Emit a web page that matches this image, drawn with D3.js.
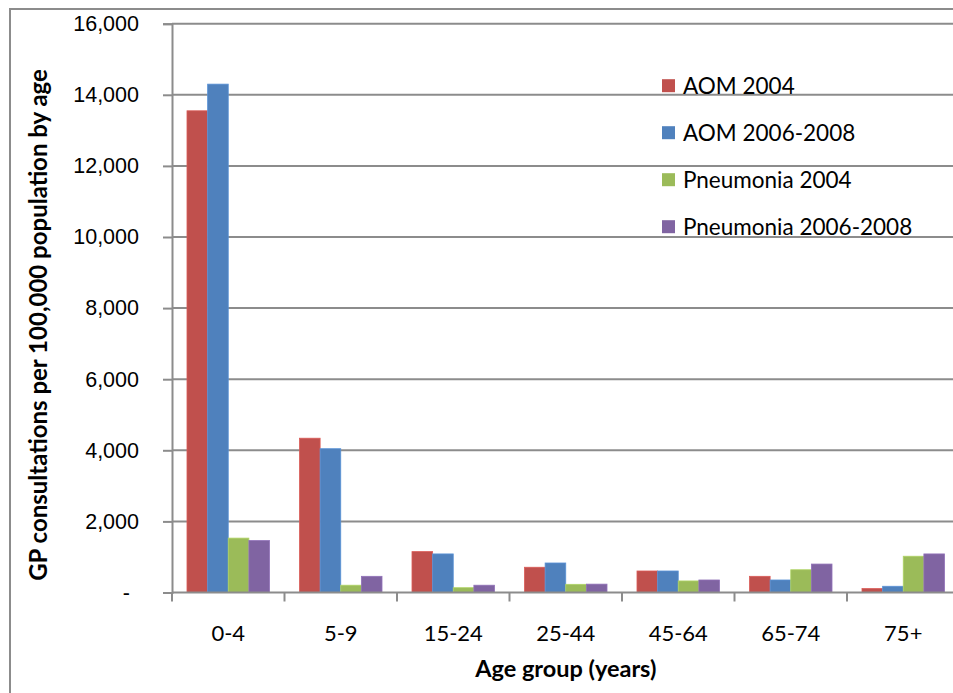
<!DOCTYPE html>
<html>
<head>
<meta charset="utf-8">
<script src="https://cdn.jsdelivr.net/npm/d3@7/dist/d3.min.js"></script>
<style>
  html, body { margin: 0; padding: 0; background: #fff; }
  svg { display: block; font-family: Lato, "Open Sans", sans-serif; }
</style>
</head>
<body>
<svg id="chart" width="953" height="693"></svg>
<script>
// GP consultations per 100,000 population by age group
const ageGroups = ["0-4", "5-9", "15-24", "25-44", "45-64", "65-74", "75+"];
const seriesNames = ["AOM 2004", "AOM 2006-2008", "Pneumonia 2004", "Pneumonia 2006-2008"];
const aom2004 = [13550, 4340, 1150, 710, 605, 455, 110];
const aom20062008 = [14300, 4045, 1085, 830, 605, 352, 175];
const pneumonia2004 = [1530, 205, 135, 230, 325, 640, 1020];
const pneumonia20062008 = [1460, 455, 205, 235, 352, 800, 1085];
const yTicks = [0, 2000, 4000, 6000, 8000, 10000, 12000, 14000, 16000];
const seriesColors = ["#C0504D", "#4F81BD", "#9BBB59", "#8064A2"];

const seriesValues = [aom2004, aom20062008, pneumonia2004, pneumonia20062008];
const rows = ageGroups.map((g, i) => ({
  group: g,
  values: seriesNames.map((s, j) => ({ series: s, value: seriesValues[j][i] }))
}));

const svg = d3.select("#chart");
const gridColor = "#8c8c8c";

// outer chart frame
svg.append("rect")
  .attr("x", 10).attr("y", 9)
  .attr("width", 1000).attr("height", 800)
  .attr("fill", "none").attr("stroke", gridColor).attr("stroke-width", 2);

const plotLeft = 172, plotRight = 959.5, plotTop = 23.7, plotBottom = 592.5;

const x0 = d3.scaleBand().domain(ageGroups).range([plotLeft, plotRight]).padding(0);
const x1 = d3.scaleBand().domain(seriesNames).range([0, x0.bandwidth()])
  .paddingInner(0).paddingOuter(0.727);
const y = d3.scaleLinear().domain([0, 16000]).range([plotBottom, plotTop]);
const color = d3.scaleOrdinal().domain(seriesNames).range(seriesColors);

// horizontal gridlines
svg.append("g")
  .selectAll("line")
  .data(yTicks.filter(d => d > 0))
  .join("line")
  .attr("x1", plotLeft).attr("x2", 953)
  .attr("y1", d => y(d)).attr("y2", d => y(d))
  .attr("stroke", gridColor).attr("stroke-width", 2);

// bars
const groups = svg.append("g")
  .selectAll("g")
  .data(rows)
  .join("g")
  .attr("transform", d => `translate(${x0(d.group)},0)`);

groups.selectAll("rect")
  .data(d => d.values)
  .join("rect")
  .attr("x", d => x1(d.series))
  .attr("width", x1.bandwidth())
  .attr("y", d => y(d.value))
  .attr("height", d => y(0) - y(d.value))
  .attr("fill", d => color(d.series))
  .attr("stroke", d => d3.color(color(d.series)).brighter(0.35))
  .attr("stroke-width", 0.8);

// y axis
const yAxis = d3.axisLeft(y)
  .tickValues(yTicks)
  .tickSize(9)
  .tickPadding(24)
  .tickFormat(d => d === 0 ? "-" : d3.format(",")(d));

const gy = svg.append("g")
  .attr("transform", `translate(${plotLeft},0)`)
  .call(yAxis);
gy.select(".domain").attr("stroke", gridColor).attr("stroke-width", 2);
gy.selectAll(".tick line").attr("stroke", gridColor).attr("stroke-width", 2);
gy.selectAll(".tick text")
  .attr("fill", "#000")
  .style("font-size", "21.5px")
  .attr("dx", d => d === 0 ? -9 : 0);

// x axis: baseline with ticks at category boundaries
const gx = svg.append("g");
gx.append("line")
  .attr("x1", plotLeft).attr("x2", 953)
  .attr("y1", y(0)).attr("y2", y(0))
  .attr("stroke", gridColor).attr("stroke-width", 2);
gx.selectAll("line.tick")
  .data(ageGroups)
  .join("line")
  .attr("class", "tick")
  .attr("x1", d => x0(d)).attr("x2", d => x0(d))
  .attr("y1", y(0)).attr("y2", y(0) + 9)
  .attr("stroke", gridColor).attr("stroke-width", 2);
gx.selectAll("text")
  .data(ageGroups)
  .join("text")
  .attr("x", d => x0(d) + x0.bandwidth() / 2)
  .attr("y", 641)
  .attr("text-anchor", "middle")
  .style("font-size", "22px")
  .text(d => d);

// axis titles
svg.append("text")
  .attr("x", (plotLeft + plotRight) / 2)
  .attr("y", 677)
  .attr("text-anchor", "middle")
  .style("font-size", "23.5px")
  .style("font-weight", "bold")
  .text("Age group (years)");

svg.append("text")
  .attr("transform", "translate(47,325) rotate(-90)")
  .attr("text-anchor", "middle")
  .style("font-size", "24px")
  .style("font-weight", "bold")
  .text("GP consultations per 100,000 population by age");

// legend
const legend = svg.append("g")
  .selectAll("g")
  .data(seriesNames)
  .join("g")
  .attr("transform", (d, i) => `translate(662,${85.7 + i * 47})`);
legend.append("rect")
  .attr("x", 0).attr("y", -6.5)
  .attr("width", 13).attr("height", 13)
  .attr("fill", d => color(d));
legend.append("text")
  .attr("x", 21).attr("y", 8)
  .style("font-size", "22.5px")
  .text(d => d);
</script>
</body>
</html>
